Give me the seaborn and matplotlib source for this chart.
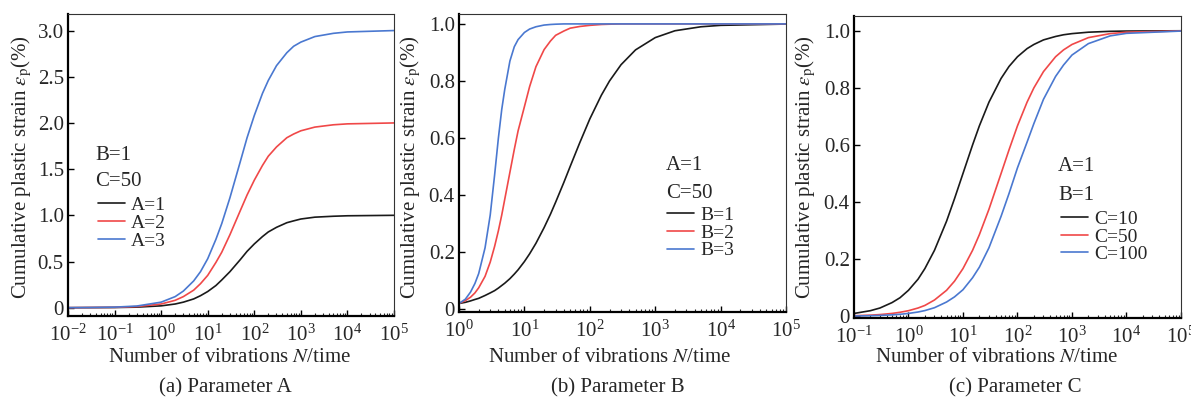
import numpy as np
import pandas as pd
import matplotlib
matplotlib.use("Agg")
import matplotlib.pyplot as plt
import seaborn as sns

# --- DATA ---
# (a) Parameter A, B=1, C=50
N_A = [0.01, 0.03, 0.1, 0.3, 1, 2, 3, 5, 7, 10, 15, 20, 30, 50, 70, 100,
       150, 200, 300, 500, 700, 1000, 2000, 5000, 10000, 100000]
EPS_A1 = [0.0, 0.001, 0.002, 0.006, 0.02, 0.04, 0.06, 0.095, 0.13, 0.175, 0.24, 0.30, 0.39,
          0.52, 0.61, 0.69, 0.77, 0.82, 0.87, 0.92, 0.94, 0.96, 0.98, 0.99, 0.995, 1.0]
EPS_A2 = [0.0, 0.002, 0.004, 0.012, 0.04, 0.08, 0.12, 0.19, 0.26, 0.35, 0.49, 0.60, 0.79,
          1.05, 1.22, 1.38, 1.54, 1.64, 1.74, 1.84, 1.88, 1.915, 1.955, 1.98, 1.99, 2.0]
EPS_A3 = [0.0, 0.002, 0.006, 0.018, 0.06, 0.12, 0.18, 0.29, 0.39, 0.53, 0.74, 0.91, 1.19,
          1.58, 1.84, 2.08, 2.32, 2.46, 2.62, 2.76, 2.83, 2.875, 2.935, 2.97, 2.985, 3.0]

# (b) Parameter B, A=1, C=50
N_B = [1, 1.25, 1.5, 1.75, 2, 2.5, 3, 3.5, 4, 4.5, 5, 6, 7, 8, 10, 12, 15, 20, 25, 30,
       40, 50, 70, 100, 150, 200, 300, 500, 1000, 2000, 5000, 10000, 100000]
EPS_B1 = [0.02, 0.024, 0.029, 0.034, 0.038, 0.048, 0.057, 0.065, 0.074, 0.083, 0.091, 0.107,
          0.123, 0.138, 0.167, 0.194, 0.231, 0.286, 0.333, 0.375, 0.444, 0.5, 0.583, 0.667,
          0.75, 0.8, 0.857, 0.909, 0.952, 0.976, 0.99, 0.995, 0.9995]
EPS_B2 = [0.02, 0.03, 0.042, 0.057, 0.075, 0.115, 0.165, 0.22, 0.275, 0.33, 0.385, 0.48,
          0.56, 0.625, 0.71, 0.78, 0.85, 0.91, 0.94, 0.96, 0.975, 0.985, 0.991, 0.995,
          0.998, 0.999, 1.0, 1.0, 1.0, 1.0, 1.0, 1.0, 1.0]
EPS_B3 = [0.02, 0.035, 0.06, 0.09, 0.125, 0.215, 0.33, 0.47, 0.60, 0.70, 0.77, 0.87,
          0.92, 0.945, 0.97, 0.982, 0.99, 0.996, 0.998, 0.999, 1.0, 1.0, 1.0, 1.0,
          1.0, 1.0, 1.0, 1.0, 1.0, 1.0, 1.0, 1.0, 1.0]

# (c) Parameter C, A=1, B=1
N_C = [0.1, 0.2, 0.3, 0.5, 0.7, 1, 1.5, 2, 3, 5, 7, 10, 15, 20, 30, 50, 70, 100,
       150, 200, 300, 500, 700, 1000, 2000, 5000, 10000, 100000]
EPS_C10 = [0.0099, 0.0196, 0.029, 0.048, 0.065, 0.091, 0.13, 0.167, 0.231, 0.333, 0.412,
           0.5, 0.6, 0.667, 0.75, 0.833, 0.875, 0.909, 0.9375, 0.952, 0.968, 0.98, 0.986,
           0.99, 0.995, 0.998, 0.999, 1.0]
EPS_C50 = [0.002, 0.004, 0.006, 0.01, 0.014, 0.0196, 0.029, 0.038, 0.057, 0.091, 0.123,
           0.167, 0.231, 0.286, 0.375, 0.5, 0.583, 0.667, 0.75, 0.8, 0.857, 0.909, 0.933,
           0.952, 0.976, 0.99, 0.995, 0.9995]
EPS_C100 = [0.001, 0.002, 0.003, 0.005, 0.007, 0.01, 0.015, 0.02, 0.03, 0.05, 0.068,
            0.093, 0.135, 0.172, 0.24, 0.35, 0.43, 0.52, 0.61, 0.675, 0.76, 0.84, 0.88,
            0.915, 0.955, 0.982, 0.991, 0.999]

XTICKS_A = [1e-2, 1e-1, 1e0, 1e1, 1e2, 1e3, 1e4, 1e5]
XTICKS_B = [1e0, 1e1, 1e2, 1e3, 1e4, 1e5]
XTICKS_C = [1e-1, 1e0, 1e1, 1e2, 1e3, 1e4, 1e5]
YTICKS_A = [0, 0.5, 1.0, 1.5, 2.0, 2.5, 3.0]
YLABELS_A = ["0", "0.5", "1.0", "1.5", "2.0", "2.5", "3.0"]
YTICKS_BC = [0, 0.2, 0.4, 0.6, 0.8, 1.0]
YLABELS_BC = ["0", "0.2", "0.4", "0.6", "0.8", "1.0"]

COLORS = ["#1a1a1a", "#f04848", "#4a78d0"]

sns.set_theme(style="ticks")
plt.rcParams["font.family"] = ["Liberation Serif", "DejaVu Serif"]
plt.rcParams["mathtext.fontset"] = "stix"
FS = 15


def long_df(n, series, labels):
    parts = []
    for vals, lab in zip(series, labels):
        parts.append(pd.DataFrame({"N": n, "eps": vals, "curve": lab}))
    return pd.concat(parts, ignore_index=True)


panels = [
    dict(df=long_df(N_A, [EPS_A1, EPS_A2, EPS_A3], ["A=1", "A=2", "A=3"]),
         pos=[0.0571, 0.206, 0.2737, 0.759], xlim=(1e-2, 1e5), ylim=(-0.09, 3.18),
         xticks=XTICKS_A, yticks=YTICKS_A, ylabels=YLABELS_A,
         notes=["B=1", "C=50"], note_x=0.083, note_y=[0.533, 0.444],
         leg=(0.092, 0.395), ylab_x=22, xlab_x=230, sub_x=225, sub="(a) Parameter A"),
    dict(df=long_df(N_B, [EPS_B1, EPS_B2, EPS_B3], ["B=1", "B=2", "B=3"]),
         pos=[0.3854, 0.216, 0.2746, 0.749], xlim=(1e0, 1e5), ylim=(-0.01, 1.035),
         xticks=XTICKS_B, yticks=YTICKS_BC, ylabels=YLABELS_BC,
         notes=["A=1", "C=50"], note_x=0.633, note_y=[0.493, 0.399],
         leg=(0.636, 0.354), ylab_x=411, xlab_x=610, sub_x=618, sub="(b) Parameter B"),
    dict(df=long_df(N_C, [EPS_C10, EPS_C50, EPS_C100], ["C=10", "C=50", "C=100"]),
         pos=[0.717, 0.201, 0.2746, 0.759], xlim=(1e-1, 1e5), ylim=(-0.006, 1.052),
         xticks=XTICKS_C, yticks=YTICKS_BC, ylabels=YLABELS_BC,
         notes=["A=1", "B=1"], note_x=0.624, note_y=[0.5, 0.407],
         leg=(0.633, 0.356), ylab_x=806, xlab_x=997, sub_x=1015, sub="(c) Parameter C"),
]

W, H = 1191, 398
fig = plt.figure(figsize=(W / 100, H / 100), dpi=100)

for p in panels:
    ax = fig.add_axes(p["pos"])
    sns.lineplot(data=p["df"], x="N", y="eps", hue="curve", palette=COLORS,
                 linewidth=1.2, ax=ax, sort=True)
    ax.set_xscale("log")
    ax.set_xlim(*p["xlim"])
    ax.set_ylim(*p["ylim"])
    ax.set_xticks(p["xticks"])
    ax.xaxis.set_minor_locator(matplotlib.ticker.LogLocator(base=10, subs=np.arange(2, 10), numticks=100))
    ax.set_yticks(p["yticks"])
    ax.set_yticklabels(p["ylabels"])
    ax.set_xlabel("")
    ax.set_ylabel("")
    ax.tick_params(axis="both", which="major", direction="in", length=4, width=1,
                   labelsize=FS, pad=3, color="black")
    ax.tick_params(axis="x", which="major", pad=6)
    ax.tick_params(axis="x", which="minor", direction="in", length=2.5, width=0.8)
    ax.tick_params(axis="y", which="minor", left=False)
    for s in ["left", "bottom"]:
        ax.spines[s].set_linewidth(1.6)
        ax.spines[s].set_color("black")
    for s in ["top", "right"]:
        ax.spines[s].set_linewidth(0.8)
        ax.spines[s].set_color("#333333")

    for txt, yy in zip(p["notes"], p["note_y"]):
        ax.text(p["note_x"], yy, txt, transform=ax.transAxes, fontsize=FS,
                ha="left", va="center")

    ax.legend(loc="upper left", bbox_to_anchor=p["leg"], frameon=False, fontsize=14,
              borderpad=0, borderaxespad=0, handlelength=1.4, handletextpad=0.3,
              labelspacing=0.0, title=None)

    fig.text(p["ylab_x"] / W, 1 - 167 / H,
             r"Cumulative plastic strain $\varepsilon_{\mathrm{p}}$(%)",
             rotation=90, ha="center", va="center", fontsize=FS)
    fig.text(p["xlab_x"] / W, 1 - 358 / H, r"Number of vibrations $N$/time",
             ha="center", va="center", fontsize=FS)
    fig.text(p["sub_x"] / W, 1 - 388 / H, p["sub"], ha="center", va="center", fontsize=FS)

fig.savefig("out.png", dpi=100, facecolor="white")
